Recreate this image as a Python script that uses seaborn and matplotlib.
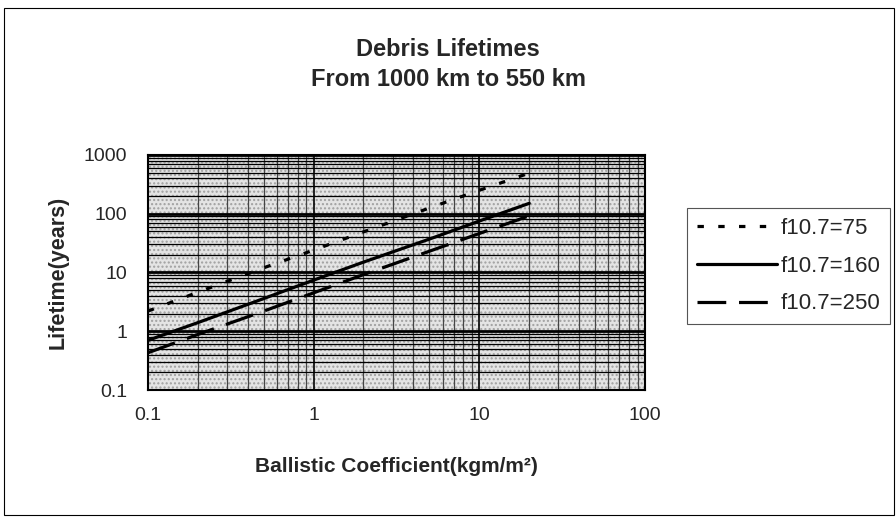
import matplotlib
matplotlib.use("Agg")
import matplotlib.pyplot as plt
from matplotlib.patches import Rectangle
from matplotlib.ticker import LogLocator, FixedLocator, NullFormatter
import seaborn as sns
import pandas as pd

# Ballistic coefficient (kgm/m^2) and lifetimes (years)
ballistic = [0.1, 0.2, 0.5, 1, 2, 5, 10, 20]
life_f75 = [2.2, 4.6, 12, 24, 49, 125, 250, 490]
life_f160 = [0.7, 1.4, 3.6, 7.4, 15, 37, 75, 150]
life_f250 = [0.43, 0.88, 2.2, 4.5, 9.2, 23, 46, 92]
series_names = ["f10.7=75", "f10.7=160", "f10.7=250"]

y_ticks = [0.1, 1, 10, 100, 1000]
x_ticks = [0.1, 1, 10, 100]

df = pd.concat([
    pd.DataFrame({"bc": ballistic, "life": life_f75, "solar": series_names[0]}),
    pd.DataFrame({"bc": ballistic, "life": life_f160, "solar": series_names[1]}),
    pd.DataFrame({"bc": ballistic, "life": life_f250, "solar": series_names[2]}),
])

sns.set_style("white")
plt.rcParams["font.family"] = ["Liberation Sans", "DejaVu Sans"]
plt.rcParams["hatch.color"] = "#9a9a9a"
plt.rcParams["hatch.linewidth"] = 1.0

fig = plt.figure(figsize=(8.96, 5.18), dpi=100)
ax = fig.add_axes([0.165, 0.247, 0.555, 0.454])

# stippled grey plot background like the old Excel chart
ax.set_facecolor("#e4e4e4")
ax.add_patch(Rectangle((0, 0), 1, 1, transform=ax.transAxes, facecolor="none",
                       edgecolor="#a0a0a0", hatch="....", lw=0, zorder=0))

dashes = {series_names[0]: (2, 4.5), series_names[1]: "", series_names[2]: (9, 4)}
sns.lineplot(data=df, x="bc", y="life", style="solar", dashes=dashes, color="black",
             lw=2.3, ax=ax, legend=True, zorder=5)

ax.set_xscale("log")
ax.set_yscale("log")
ax.set_xlim(0.1, 100)
ax.set_ylim(0.1, 1000)

ax.xaxis.set_major_locator(FixedLocator(x_ticks))
ax.yaxis.set_major_locator(FixedLocator(y_ticks))
ax.set_xticklabels([f"{t:g}" for t in x_ticks])
ax.set_yticklabels([f"{t:g}" for t in y_ticks])
ax.xaxis.set_minor_locator(LogLocator(base=10, subs=range(2, 10)))
ax.yaxis.set_minor_locator(LogLocator(base=10, subs=range(2, 10)))
ax.xaxis.set_minor_formatter(NullFormatter())
ax.yaxis.set_minor_formatter(NullFormatter())

ax.grid(True, axis="y", which="major", color="black", lw=2.0, zorder=1)
ax.grid(True, axis="y", which="minor", color="black", lw=0.9, zorder=1)
ax.grid(True, axis="x", which="major", color="black", lw=1.2, zorder=1)
ax.grid(True, axis="x", which="minor", color="#444444", lw=0.9, zorder=1)
ax.set_axisbelow(True)

ax.tick_params(axis="both", which="major", direction="out", length=5, width=1,
               labelsize=14, color="black")
ax.tick_params(axis="both", which="minor", length=0)
ax.tick_params(axis="y", pad=10)
ax.tick_params(axis="x", pad=7)
for s in ax.spines.values():
    s.set_color("black")
    s.set_linewidth(1.5)

ax.set_xlabel("Ballistic Coefficient(kgm/m²)", fontsize=15, fontweight="bold", labelpad=24)
ax.set_ylabel("Lifetime(years)", fontsize=15.5, fontweight="bold", labelpad=11)

fig.text(0.5, 0.905, "Debris Lifetimes", ha="center", va="center", fontsize=17, fontweight="bold")
fig.text(0.5, 0.847, "From 1000 km to 550 km", ha="center", va="center", fontsize=17, fontweight="bold")

handles, labels = ax.get_legend_handles_labels()
ax.legend(handles, labels, loc="upper left", bbox_to_anchor=(687 / 896, 1 - 208 / 518),
          bbox_transform=fig.transFigure, frameon=True, fancybox=False, fontsize=16,
          handlelength=3.6, handletextpad=0.15, borderpad=0.45, labelspacing=0.75,
          edgecolor="#555555", framealpha=1, borderaxespad=0)
ax.get_legend().get_frame().set_linewidth(0.8)

# thin frame around the whole chart
fig.patches.append(Rectangle((0.004, 0.006), 0.994, 0.978, transform=fig.transFigure,
                             fill=False, edgecolor="black", lw=0.8))

fig.savefig("out.png", dpi=100)
